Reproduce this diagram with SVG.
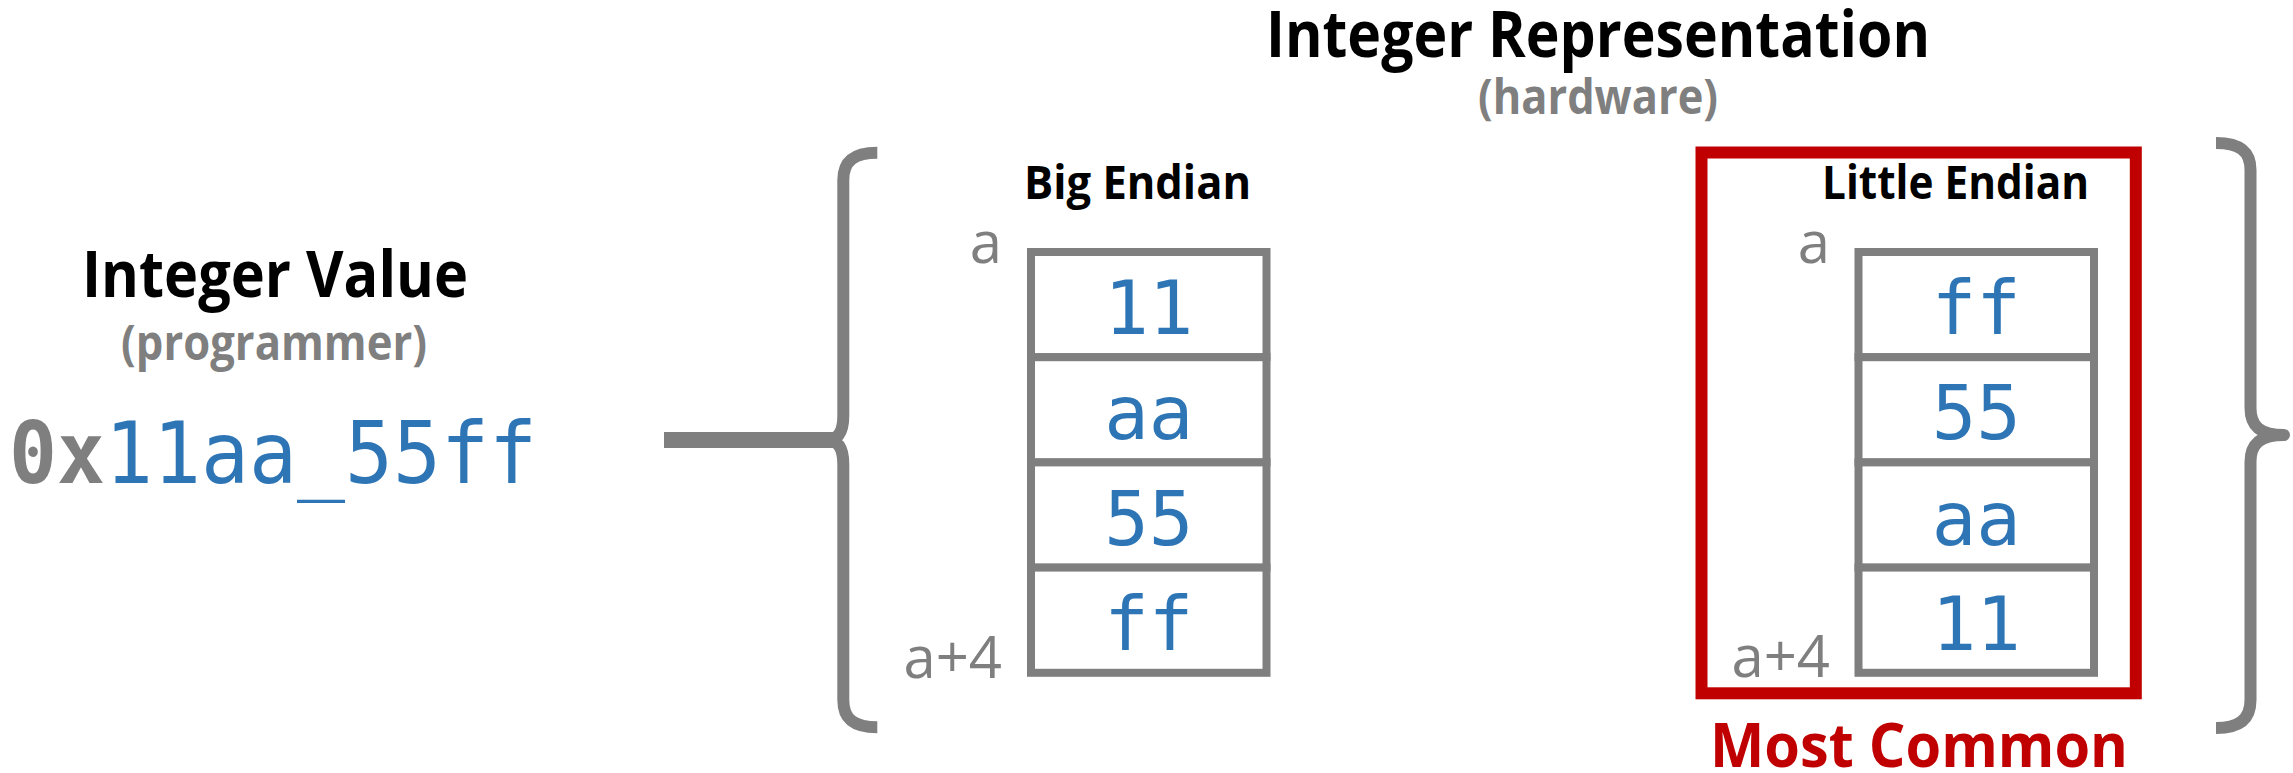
<svg xmlns="http://www.w3.org/2000/svg" width="2293" height="773" viewBox="0 0 2293 773">
  <style>
    .title { font-family: "Open Sans", "Liberation Sans", sans-serif; font-weight: bold; fill: #000000; }
    .sub { font-family: "Open Sans", "Liberation Sans", sans-serif; font-weight: bold; fill: #7f7f7f; }
    .addr { font-family: "Open Sans", "Noto Sans", sans-serif; font-size: 58px; fill: #7f7f7f; }
    .byte { font-family: "DejaVu Sans Mono", "Liberation Mono", monospace; font-size: 74px; fill: #2e75b6; text-anchor: middle; }
    .cell { fill: #ffffff; stroke: #7f7f7f; stroke-width: 8; }
    .brace { fill: none; stroke: #7f7f7f; stroke-width: 12; stroke-linecap: butt; stroke-linejoin: round; }
    .link { fill: none; stroke: #7f7f7f; stroke-width: 16; }
  </style>

  <rect width="2293" height="773" fill="#ffffff"/>

  <!-- programmer's view of the value -->
  <g id="integer-value">
    <text class="title" x="275" y="297" font-size="64" text-anchor="middle" textLength="386" lengthAdjust="spacingAndGlyphs">Integer Value</text>
    <text class="sub" x="274" y="360" font-size="48" text-anchor="middle" textLength="306" lengthAdjust="spacingAndGlyphs">(programmer)</text>
    <text x="9" y="483" font-family="DejaVu Sans Mono, Liberation Mono, monospace" font-size="86" textLength="528" lengthAdjust="spacingAndGlyphs"><tspan fill="#7f7f7f" font-weight="bold">0x</tspan><tspan fill="#2e75b6">11aa_55ff</tspan></text>
  </g>

  <!-- hardware heading -->
  <g id="integer-representation">
    <text class="title" x="1598" y="57" font-size="64" text-anchor="middle" textLength="664" lengthAdjust="spacingAndGlyphs">Integer Representation</text>
    <text class="sub" x="1598" y="114" font-size="48" text-anchor="middle" textLength="240" lengthAdjust="spacingAndGlyphs">(hardware)</text>
  </g>

  <!-- connector and braces -->
  <g id="connectors">
    <line class="link" x1="664" y1="440" x2="836" y2="440"/>
    <path class="brace" d="M 877.3 152.7 C 855 152.7 843.3 160 843.3 180 L 843.3 416 C 843.3 432 838 440 826 440 C 838 440 843.3 448 843.3 464 L 843.3 700 C 843.3 720 855 727.3 877.3 727.3"/>
    <path class="brace" d="M 2216 143 C 2238 143 2250.5 150 2250.5 170 L 2250.5 408 C 2250.5 426 2260 435 2284 435 C 2260 435 2250.5 444 2250.5 462 L 2250.5 700 C 2250.5 720 2238 728 2216 728"/>
  </g>

  <!-- big endian layout -->
  <g id="big-endian">
    <text class="title" x="1024" y="199" font-size="47" textLength="227" lengthAdjust="spacingAndGlyphs">Big Endian</text>
    <text class="addr" x="1002" y="263" text-anchor="end">a</text>
    <text class="addr" x="1002" y="678" text-anchor="end">a+4</text>
    <rect class="cell" x="1031" y="252" width="235.5" height="105.2"/>
    <rect class="cell" x="1031" y="357.2" width="235.5" height="105.2"/>
    <rect class="cell" x="1031" y="462.4" width="235.5" height="105.2"/>
    <rect class="cell" x="1031" y="567.6" width="235.5" height="105.2"/>
    <text class="byte" x="1148.75" y="334.1">11</text>
    <text class="byte" x="1148.75" y="439.3">aa</text>
    <text class="byte" x="1148.75" y="544.5">55</text>
    <text class="byte" x="1148.75" y="649.7">ff</text>
  </g>

  <!-- little endian layout, highlighted -->
  <g id="little-endian">
    <rect x="1701.5" y="152.5" width="434.3" height="540.8" fill="none" stroke="#c00000" stroke-width="12"/>
    <text class="title" x="1822" y="199" font-size="47" textLength="267" lengthAdjust="spacingAndGlyphs">Little Endian</text>
    <text class="addr" x="1830" y="263" text-anchor="end">a</text>
    <text class="addr" x="1830" y="677" text-anchor="end">a+4</text>
    <rect class="cell" x="1858.5" y="252" width="235.5" height="105.2"/>
    <rect class="cell" x="1858.5" y="357.2" width="235.5" height="105.2"/>
    <rect class="cell" x="1858.5" y="462.4" width="235.5" height="105.2"/>
    <rect class="cell" x="1858.5" y="567.6" width="235.5" height="105.2"/>
    <text class="byte" x="1976.25" y="334.1">ff</text>
    <text class="byte" x="1976.25" y="439.3">55</text>
    <text class="byte" x="1976.25" y="544.5">aa</text>
    <text class="byte" x="1976.25" y="649.7">11</text>
    <text x="1919" y="767" font-family="Open Sans, Liberation Sans, sans-serif" font-weight="bold" font-size="60" fill="#c00000" text-anchor="middle" textLength="418" lengthAdjust="spacingAndGlyphs">Most Common</text>
  </g>
</svg>
